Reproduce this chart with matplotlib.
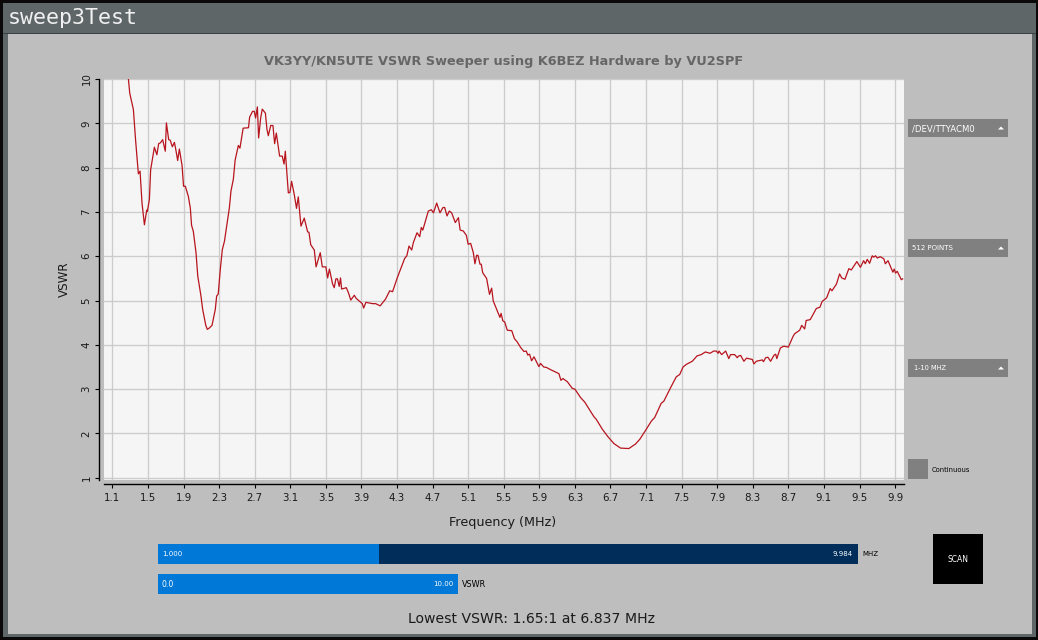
import matplotlib
matplotlib.use("Agg")
import matplotlib.pyplot as plt
from matplotlib.patches import Rectangle, Polygon

W, H = 1038, 640

# curve
freq = [1.28, 1.295, 1.336, 1.362, 1.392, 1.411, 1.433, 1.46, 1.486, 1.493, 1.516, 1.53, 1.572, 1.60, 1.62, 1.64,
        1.665, 1.695, 1.707, 1.733, 1.75, 1.774, 1.797, 1.81, 1.834, 1.853, 1.883, 1.90, 1.92, 1.954, 1.976, 1.99,
        2.01, 2.04, 2.06, 2.096, 2.115, 2.15, 2.167, 2.19, 2.22, 2.257, 2.272, 2.29, 2.313, 2.336, 2.36, 2.415,
        2.433, 2.46, 2.48, 2.516, 2.534, 2.57, 2.63, 2.643, 2.676, 2.695, 2.71, 2.73, 2.744, 2.767, 2.785, 2.82,
        2.838, 2.853, 2.88, 2.905, 2.924, 2.943, 2.98, 3.01, 3.03, 3.044, 3.078, 3.096, 3.115, 3.145, 3.17, 3.19,
        3.22, 3.257, 3.295, 3.31, 3.33, 3.37, 3.39, 3.437, 3.46, 3.50, 3.52, 3.54, 3.575, 3.594, 3.613, 3.63,
        3.65, 3.665, 3.677, 3.73, 3.755, 3.78, 3.82, 3.84, 3.91, 3.925, 3.95, 4.025, 4.06, 4.11, 4.17, 4.218,
        4.25, 4.304, 4.386, 4.41, 4.435, 4.465, 4.484, 4.525, 4.555, 4.573, 4.59, 4.652, 4.686, 4.71, 4.746, 4.783,
        4.817, 4.836, 4.862, 4.888, 4.914, 4.955, 4.99, 5.01, 5.045, 5.08, 5.10, 5.128, 5.158, 5.176, 5.195, 5.21,
        5.233, 5.247, 5.263, 5.307, 5.34, 5.364, 5.382, 5.416, 5.457, 5.47, 5.49, 5.51, 5.54, 5.59, 5.62, 5.65,
        5.69, 5.727, 5.753, 5.77, 5.79, 5.813, 5.84, 5.895, 5.914, 5.95, 5.98, 6.027, 6.12, 6.143, 6.165, 6.214,
        6.27, 6.30, 6.364, 6.41, 6.513, 6.54, 6.607, 6.67, 6.74, 6.813, 6.907, 6.98, 7.03, 7.085, 7.16, 7.197,
        7.27, 7.30, 7.385, 7.44, 7.478, 7.516, 7.553, 7.62, 7.673, 7.72, 7.767, 7.82, 7.86, 7.89, 7.91, 7.92,
        7.95, 7.995, 8.03, 8.05, 8.096, 8.126, 8.14, 8.164, 8.2, 8.23, 8.295, 8.313, 8.34, 8.407, 8.42, 8.445,
        8.47, 8.50, 8.54, 8.557, 8.57, 8.61, 8.647, 8.70, 8.75, 8.77, 8.827, 8.85, 8.883, 8.90, 8.946, 9.014,
        9.055, 9.08, 9.13, 9.17, 9.19, 9.24, 9.276, 9.30, 9.336, 9.38, 9.407, 9.47, 9.51, 9.546, 9.565, 9.587,
        9.613, 9.643, 9.66, 9.68, 9.70, 9.733, 9.774, 9.79, 9.82, 9.875, 9.89, 9.905, 9.924, 9.97, 9.985]
vswr = [10.0, 9.68, 9.31, 8.59, 7.86, 7.92, 7.20, 6.71, 7.04, 7.01, 7.28, 7.95, 8.46, 8.29, 8.54, 8.56,
        8.63, 8.37, 9.01, 8.63, 8.62, 8.47, 8.57, 8.44, 8.16, 8.42, 8.05, 7.58, 7.58, 7.35, 7.09, 6.70,
        6.56, 6.08, 5.55, 5.10, 4.80, 4.44, 4.35, 4.38, 4.44, 4.80, 5.10, 5.15, 5.70, 6.15, 6.34, 7.09,
        7.47, 7.74, 8.17, 8.50, 8.44, 8.89, 8.90, 9.14, 9.27, 9.27, 9.12, 9.37, 8.67, 9.12, 9.32, 9.23,
        8.86, 8.72, 8.95, 8.95, 8.54, 8.78, 8.26, 8.26, 8.08, 8.37, 7.43, 7.44, 7.69, 7.39, 7.08, 7.34,
        6.68, 6.86, 6.55, 6.54, 6.26, 6.14, 5.76, 6.08, 5.76, 5.76, 5.51, 5.71, 5.38, 5.29, 5.49, 5.49,
        5.32, 5.51, 5.26, 5.29, 5.17, 5.01, 5.12, 5.05, 4.93, 4.83, 4.96, 4.93, 4.93, 4.88, 5.03, 5.22,
        5.20, 5.52, 5.95, 6.01, 6.23, 6.14, 6.31, 6.53, 6.44, 6.65, 6.59, 7.02, 7.05, 6.98, 7.20, 6.98,
        7.10, 7.10, 6.91, 7.02, 6.98, 6.76, 6.87, 6.59, 6.57, 6.47, 6.27, 6.29, 6.08, 5.83, 6.02, 6.02,
        5.82, 5.82, 5.63, 5.50, 5.14, 5.28, 4.99, 4.82, 4.62, 4.71, 4.54, 4.52, 4.33, 4.32, 4.14, 4.07,
        3.94, 3.85, 3.86, 3.77, 3.79, 3.64, 3.73, 3.51, 3.58, 3.50, 3.49, 3.44, 3.35, 3.20, 3.24, 3.17,
        3.02, 3.00, 2.81, 2.71, 2.38, 2.32, 2.10, 1.93, 1.77, 1.67, 1.66, 1.76, 1.87, 2.04, 2.28, 2.36,
        2.68, 2.73, 3.07, 3.28, 3.33, 3.50, 3.56, 3.63, 3.75, 3.78, 3.84, 3.81, 3.86, 3.86, 3.81, 3.86,
        3.78, 3.86, 3.69, 3.78, 3.78, 3.71, 3.75, 3.76, 3.63, 3.70, 3.67, 3.57, 3.63, 3.66, 3.62, 3.71,
        3.72, 3.63, 3.77, 3.79, 3.69, 3.93, 3.97, 3.95, 4.18, 4.25, 4.33, 4.44, 4.36, 4.55, 4.57, 4.82,
        4.85, 4.98, 5.06, 5.27, 5.22, 5.37, 5.60, 5.51, 5.48, 5.72, 5.69, 5.88, 5.75, 5.90, 5.83, 5.93,
        5.84, 6.01, 5.98, 6.01, 5.96, 5.99, 5.94, 5.83, 5.90, 5.64, 5.71, 5.62, 5.66, 5.47, 5.49]

x_ticks = [1.1, 1.5, 1.9, 2.3, 2.7, 3.1, 3.5, 3.9, 4.3, 4.7, 5.1, 5.5, 5.9, 6.3, 6.7, 7.1, 7.5, 7.9, 8.3, 8.7, 9.1, 9.5, 9.9]
y_ticks = [1, 2, 3, 4, 5, 6, 7, 8, 9, 10]
dropdowns = ["/DEV/TTYACM0", "512 POINTS", "1-10 MHZ"]

GREY = "#808080"
BLUE = "#0078d7"
NAVY = "#002d5a"

fig = plt.figure(figsize=(W / 100, H / 100), dpi=100, facecolor="#0a0808")

# window chrome and controls, laid out in screen pixels
ui = fig.add_axes([0, 0, 1, 1], zorder=0)
ui.set_xlim(0, W)
ui.set_ylim(H, 0)
ui.axis("off")


def box(x0, y0, x1, y1, color):
    ui.add_patch(Rectangle((x0, y0), x1 - x0, y1 - y0, color=color, lw=0))


def label(x, y, s, color="black", size=5, ha="left", **kw):
    ui.text(x, y, s, color=color, fontsize=size, ha=ha, va="center", **kw)


box(3, 3, 1036, 637, "#5f6668")
box(8, 34, 1032, 634, "#bebebe")
box(3, 33, 1036, 34, "#3a3f41")
label(8, 18.5, "sweep3Test", color="#f0f0f0", size=15.6, family="DejaVu Sans Mono")

for s, y, x, size in zip(dropdowns, [119, 239, 359], [912, 912, 914], [6.1, 5, 4.8]):
    box(908, y, 1008, y + 18, GREY)
    label(x, y + 9.5, s, color="white", size=size)
    ui.add_patch(Polygon([(998, y + 10.5), (1004, y + 10.5), (1001, y + 7.5)], color="white", lw=0))

box(908, 459, 928, 479, GREY)
label(932, 469.5, "Continuous", size=4.9)

box(158, 544, 858, 564, NAVY)
box(158, 544, 379, 564, BLUE)
label(162, 554.5, "1.000", color="white")
label(853, 554.5, "9.984", color="white", ha="right")
label(862, 554.5, "MHZ")

box(158, 574, 458, 594, BLUE)
label(162, 584.5, "0.0", color="white", size=5.6)
label(453, 584.5, "10.00", color="white", ha="right")
label(462, 584.5, "VSWR", size=5.9)

box(933, 534, 983, 584, "black")
label(958, 559.5, "SCAN", color="white", ha="center", size=5.5)

label(531, 619, "Lowest VSWR: 1.65:1 at 6.837 MHz", color="#1a1a1a", size=10.1, ha="center")
label(503.5, 61.5, "VK3YY/KN5UTE VSWR Sweeper using K6BEZ Hardware by VU2SPF", color="#666666", size=9.3, ha="center", weight="bold")
label(502.5, 522.5, "Frequency (MHz)", color="#1a1a1a", size=9.2, ha="center")
label(64, 279, "VSWR", color="#1a1a1a", size=8.6, ha="center", rotation=90)

# the plot itself
left, right, top, bottom = 103.5, 904, 79, 480
ax = fig.add_axes([left / W, 1 - bottom / H, (right - left) / W, (bottom - top) / H], zorder=1)
ax.set_facecolor("#f5f5f5")
ax.plot(freq, vswr, color="#b8141e", linewidth=0.9)
ax.set_xlim(1.0, 10.0)
ax.set_ylim(0.95, 10.0)
ax.set_xticks(x_ticks)
ax.set_xticklabels([str(t) for t in x_ticks])
ax.set_yticks(y_ticks)
ax.set_yticklabels([])
ax.grid(True, color="#cccccc", linewidth=0.95)
ax.set_axisbelow(True)
ax.tick_params(length=3, width=0.8, labelsize=7.4, color="black", labelcolor="#1a1a1a", pad=3.2)
# rotated tick labels would not centre on their ticks, so place them by hand
for v in y_ticks:
    ax.text(-0.0212, v, str(v), transform=ax.get_yaxis_transform(), rotation=90, ha="center", va="center",
            fontsize=7.4, color="#1a1a1a", clip_on=False)
ax.spines["top"].set_visible(False)
ax.spines["right"].set_visible(False)
ax.spines["left"].set_position(("outward", 3.4))
ax.spines["bottom"].set_position(("outward", 3))
ax.spines["left"].set_linewidth(1.0)
ax.spines["bottom"].set_linewidth(1.0)

fig.savefig("out.png", dpi=100, facecolor=fig.get_facecolor())
